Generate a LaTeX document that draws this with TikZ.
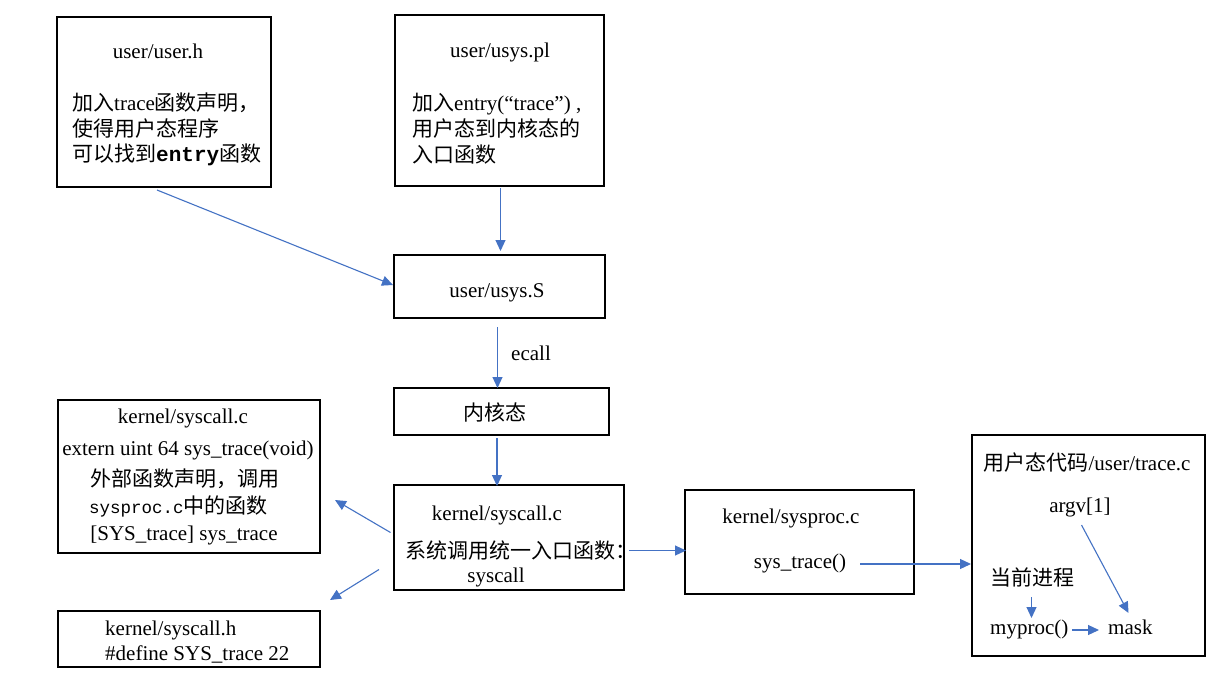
\documentclass[tikz,border=0pt]{standalone}
\usepackage{fontspec}
\setmainfont{Liberation Serif}
\newfontfamily\cjk{Noto Sans CJK SC}
\newfontfamily\monof{Liberation Mono}
\newcommand\zh[1]{{\cjk #1}}
\usetikzlibrary{arrows.meta,calc}
\definecolor{arrowblue}{HTML}{4472C4}
\begin{document}
\begin{tikzpicture}[x=1pt,y=-1pt,
  box/.style={draw=black,line width=1.8pt,inner sep=0pt},
  txt/.style={inner sep=0pt,font=\fontsize{21}{25}\selectfont},
  lt/.style={txt,anchor=base west},
  ct/.style={txt,anchor=base},
  con/.style={draw=arrowblue,line width=1.1pt,-{Triangle[length=11pt,width=10pt]}}]
\fill[white] (0,0) rectangle (1229,686);
\useasboundingbox (0,0) rectangle (1229,686);

% boxes
\node[box,minimum width=214pt,minimum height=170pt] (A) at (164,102) {};
\node[box,minimum width=209pt,minimum height=171pt] (B) at (499.5,100.5) {};
\node[box,minimum width=211pt,minimum height=63pt] (C) at (499.5,286.5) {};
\node[box,minimum width=215pt,minimum height=47pt] (D) at (501.5,411.5) {};
\node[box,minimum width=262pt,minimum height=153pt] (E) at (189,476.5) {};
\node[box,minimum width=230pt,minimum height=105pt] (F) at (509,537.5) {};
\node[box,minimum width=262pt,minimum height=56pt] (G) at (189,639) {};
\node[box,minimum width=229pt,minimum height=104pt] (H) at (799.5,542) {};
\node[box,minimum width=233pt,minimum height=221pt] (I) at (1088.5,545.5) {};

% texts A
\node[ct] (a0) at (158,58) {user/user.h};
\node[lt] (a1) at (72,110) {\zh{加入}trace\zh{函数声明，}};
\node[lt] (a2) at (72,136) {\zh{使得用户态程序}};
\node[lt] (a3) at (72,161) {\zh{可以找到}{\monof\bfseries entry}\zh{函数}};
% texts B
\node[ct] (b0) at (500,57) {user/usys.pl};
\node[lt] (b1) at (412,110) {\zh{加入}entry(“trace”) ,};
\node[lt] (b2) at (412,136) {\zh{用户态到内核态的}};
\node[lt] (b3) at (412,162) {\zh{入口函数}};
% C, D
\node[ct] (c0) at (497,297) {user/usys.S};
\node[lt] (ecall) at (511,360) {ecall};
\node[ct] (d0) at (495,420) {\zh{内核态}};
% E
\node[ct] (e0) at (183,423) {kernel/syscall.c};
\node[ct] (e1) at (188,455) {extern uint 64 sys\_trace(void)};
\node[lt] (e2) at (90,486) {\zh{外部函数声明，调用}};
\node[lt] (e3) at (89,513) {{\monof\fontsize{17.5}{25}\selectfont sysproc.c}\zh{中的函数}};
\node[ct] (e4) at (184,540) {[SYS\_trace] sys\_trace};
% F
\node[ct] (f0) at (497,520) {kernel/syscall.c};
\node[lt] (f1) at (405,558) {\zh{系统调用统一入口函数：}};
\node[ct] (f2) at (496,582) {syscall};
% G
\node[lt] (g0) at (105,635) {kernel/syscall.h};
\node[lt] (g1) at (105,660) {\#define SYS\_trace 22};
% H
\node[ct] (h0) at (791,523) {kernel/sysproc.c};
\node[ct] (h1) at (800,568) {sys\_trace()};
% I
\node[ct] (i0) at (1087,470) {\zh{用户态代码}/user/trace.c};
\node[ct] (i1) at (1080,512) {argv[1]};
\node[lt] (i2) at (990,585) {\zh{当前进程}};
\node[lt] (i3) at (990,634) {myproc()};
\node[lt] (i4) at (1108,634) {mask};

% connector end points
\coordinate (p1s) at (157,190);
\coordinate (p1e) at (393,285);
\coordinate (p2s) at (500.5,188);
\coordinate (p2e) at (500.5,251);
\coordinate (p3s) at (497.5,327);
\coordinate (p3e) at (497.5,388);
\coordinate (p4s) at (497,438);
\coordinate (p4e) at (497,486);
\coordinate (p5s) at (390.5,532.5);
\coordinate (p5e) at (335,500);
\coordinate (p6s) at (379,569.5);
\coordinate (p6e) at (330,600);
\coordinate (p7s) at (629,550.5);
\coordinate (p7e) at (686,550.5);
\coordinate (p8s) at (860,564);
\coordinate (p8e) at (971,564);
\coordinate (p9s) at (1081.5,525);
\coordinate (p9e) at (1128.5,613);
\coordinate (p10s) at (1031.5,597);
\coordinate (p10e) at (1031.5,618);
\coordinate (p11s) at (1072,630);
\coordinate (p11e) at (1099,630);

\draw[con] (p1s) -- (p1e);
\draw[con] (p2s) -- (p2e);
\draw[con] (p3s) -- (p3e);
\draw[con] (p4s) -- (p4e);
\draw[con] (p5s) -- (p5e);
\draw[con] (p6s) -- (p6e);
\draw[con] (p7s) -- (p7e);
\draw[con] (p8s) -- (p8e);
\draw[con] (p9s) -- (p9e);
\draw[con] (p10s) -- (p10e);
\draw[con] (p11s) -- (p11e);
\end{tikzpicture}
\end{document}
